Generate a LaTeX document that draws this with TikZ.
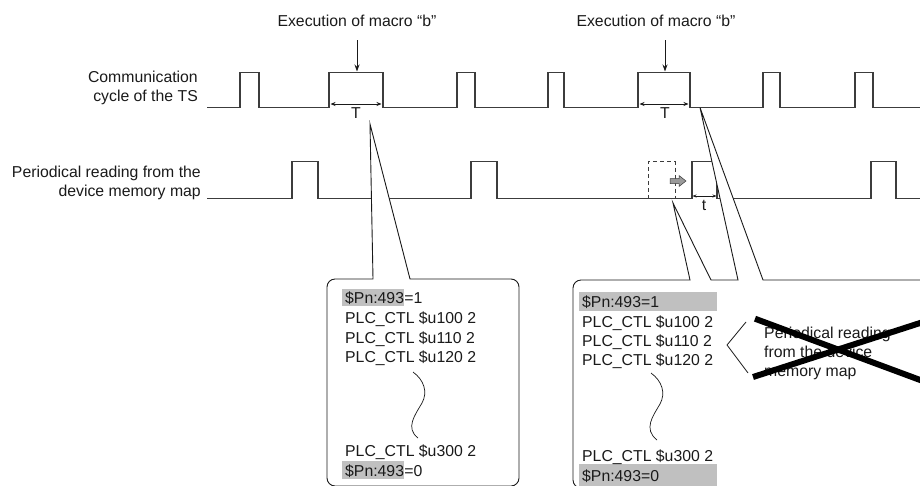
\documentclass[tikz,border=0pt]{standalone}
\usepackage{fontspec}
\setmainfont{Liberation Sans}
\usetikzlibrary{arrows.meta}
\definecolor{sig}{HTML}{3C3C3C}
\definecolor{hl}{HTML}{C0C0C0}
\definecolor{ink}{HTML}{1A1A1A}
\definecolor{blockarrow}{HTML}{9A9A9A}
\begin{document}
\begin{tikzpicture}[x=1pt,y=-1pt,
  font=\fontsize{15.8}{19}\selectfont,
  txt/.style={inner sep=0pt, text=ink},
  hlbox/.style={fill=hl, inner xsep=0pt, inner ysep=0pt, text height=15pt, text depth=2.5pt, text=ink},
  sigline/.style={draw=sig, line width=1.4pt, line join=miter},
  callout/.style={draw=ink, line width=0.9pt, fill=white, line join=miter},
  thin/.style={draw=ink, line width=0.7pt},
  dimarrow/.style={draw=ink, line width=0.8pt, {Stealth[length=5pt,width=4pt]}-{Stealth[length=5pt,width=4pt]}},
  smalldim/.style={draw=ink, line width=0.7pt, {Stealth[length=4pt,width=3pt]}-{Stealth[length=4pt,width=3pt]}},
  downarrow/.style={draw=ink, line width=0.9pt, -{Stealth[length=7pt,width=5pt]}}
]
\useasboundingbox (0,0) rectangle (920,485);
\clip (0,0) rectangle (920,485);

% left labels
\node[txt, anchor=base east] (l1a) at (198,82.5) {Communication};
\node[txt, anchor=base east] (l1b) at (198,101) {cycle of the TS};
\node[txt, anchor=base east] (l2a) at (201,177) {Periodical reading from the};
\node[txt, anchor=base east] (l2b) at (201,196) {device memory map};

% execution labels and arrows
\node[txt, anchor=base] (e1) at (357,26) {Execution of macro “b”};
\node[txt, anchor=base] (e2) at (656,26) {Execution of macro “b”};
\coordinate (e1s) at (357,40);
\coordinate (e1t) at (357,71.5);
\coordinate (e2s) at (665,40);
\coordinate (e2t) at (665,71.5);
\draw[downarrow] (e1s) -- (e1t);
\draw[downarrow] (e2s) -- (e2t);

% communication cycle signal
\draw[sigline] (207,107.5)
  \foreach \a/\b in {240/259,329/383,457/475,548/564,638/690,763/780,855/873}
  { -- (\a,107.5) -- (\a,72.5) -- (\b,72.5) -- (\b,107.5) } -- (925,107.5);

% periodical reading signal
\draw[sigline] (207,198.5)
  \foreach \a/\b in {292/318,471/497,692/717,871/896}
  { -- (\a,198.5) -- (\a,161.5) -- (\b,161.5) -- (\b,198.5) } -- (925,198.5);

% dashed (shifted) pulse and gray shift arrow
\draw[draw=sig, line width=1pt, dash pattern=on 4pt off 3pt] (648,198.5) -- (648,161.5) -- (675,161.5) -- (675,198.5);
\filldraw[fill=blockarrow, draw=sig, line width=0.5pt]
  (670,178.5) -- (679,178.5) -- (679,175.5) -- (686,181) -- (679,186.5) -- (679,183.5) -- (670,183.5) -- cycle;

% T dimension arrows
\coordinate (T1a) at (330.5,104);
\coordinate (T1b) at (381.5,104);
\coordinate (T2a) at (639.5,104);
\coordinate (T2b) at (688.5,104);
\draw[dimarrow] (T1a) -- (T1b);
\draw[dimarrow] (T2a) -- (T2b);
\node[txt, anchor=base] (T1) at (356,118) {T};
\node[txt, anchor=base] (T2) at (665,118) {T};

% t dimension arrow
\coordinate (ta) at (692.5,196);
\coordinate (tb) at (716.5,196);
\draw[smalldim] (ta) -- (tb);
\node[txt, anchor=base] (tl) at (704,210) {t};

% callout 1
\filldraw[callout] (327,287) arc[start angle=180,end angle=270,radius=8]
  -- (373,279) -- (370,124) -- (410,279) -- (511,279)
  arc[start angle=270,end angle=360,radius=8]
  -- (519,478) arc[start angle=0,end angle=90,radius=8]
  -- (335,486) arc[start angle=90,end angle=180,radius=8] -- cycle;

% callout 2
\filldraw[callout] (573,288) arc[start angle=180,end angle=270,radius=8]
  -- (690,280) -- (673,203) -- (711,280) -- (738,280) -- (700,107.5) -- (763,280)
  -- (930,280) -- (930,488) -- (581,488)
  arc[start angle=90,end angle=180,radius=8] -- cycle;

% callout 1 contents
\node[hlbox, anchor=base west] (b1h1) at (342,303.5) {\hspace*{3pt}\$Pn:493};
\node[txt, anchor=base west] (b1h1r) at (b1h1.base east) {=1};
\node[txt, anchor=base west] (b1l2) at (345,323.3) {PLC\_CTL \$u100 2};
\node[txt, anchor=base west] (b1l3) at (345,343) {PLC\_CTL \$u110 2};
\node[txt, anchor=base west] (b1l4) at (345,362.8) {PLC\_CTL \$u120 2};
\draw[thin] (413,372) .. controls (424,380) and (428,392) .. (422,403)
  .. controls (415,415) and (405,428) .. (418,438);
\node[txt, anchor=base west] (b1l5) at (345,456.5) {PLC\_CTL \$u300 2};
\node[hlbox, anchor=base west] (b1h2) at (342,476) {\hspace*{3pt}\$Pn:493};
\node[txt, anchor=base west] (b1h2r) at (b1h2.base east) {=0};

% callout 2 contents
\fill[hl] (579,292) rectangle (717,311);
\fill[hl] (579,464) rectangle (717,486);
\node[txt, anchor=base west] (b2l1) at (582,307.3) {\$Pn:493=1};
\node[txt, anchor=base west] (b2l2) at (582,327) {PLC\_CTL \$u100 2};
\node[txt, anchor=base west] (b2l3) at (582,346) {PLC\_CTL \$u110 2};
\node[txt, anchor=base west] (b2l4) at (582,365.3) {PLC\_CTL \$u120 2};
\draw[thin] (651,373) .. controls (662,381) and (666,393) .. (660,404)
  .. controls (653,416) and (643,429) .. (657,440);
\node[txt, anchor=base west] (b2l5) at (582,461) {PLC\_CTL \$u300 2};
\node[txt, anchor=base west] (b2l6) at (582,481) {\$Pn:493=0};

% bracket and crossed-out note
\draw[thin, line width=0.8pt] (746,322) -- (727,345) -- (748,373);
\node[txt, anchor=base west] (n1) at (764,338.5) {Periodical reading};
\node[txt, anchor=base west] (n2) at (764,357.3) {from the device};
\node[txt, anchor=base west] (n3) at (764,376) {memory map};
\draw[black, line width=6pt] (755,318.7) -- (925,381.8);
\draw[black, line width=6pt] (753,377) -- (925,321.4);
\end{tikzpicture}
\end{document}
